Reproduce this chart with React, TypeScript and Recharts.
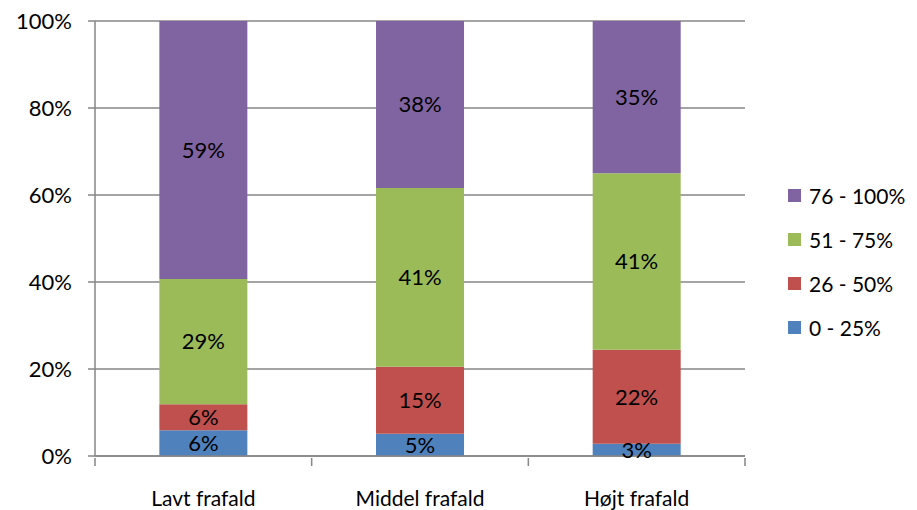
import React from "react";
import { BarChart, Bar, XAxis, YAxis, CartesianGrid, LabelList } from "recharts";

const categories = ["Lavt frafald", "Middel frafald", "Højt frafald"];
const seriesNames = ["0 - 25%", "26 - 50%", "51 - 75%", "76 - 100%"];
const band0 = [5.9, 5.1, 2.8];
const band1 = [6.0, 15.4, 21.6];
const band2 = [28.8, 41.1, 40.6];
const band3 = [59.3, 38.4, 35.0];
const yTicks = [0, 20, 40, 60, 80, 100];

const COLORS = ["#4F81BD", "#C0504D", "#9BBB59", "#8064A2"];
const FONT = "Lato, 'Open Sans', sans-serif";
const AXIS = "#868686";

const data = categories.map((name, i) => ({
  name,
  s0: band0[i],
  s1: band1[i],
  s2: band2[i],
  s3: band3[i],
}));

const PLOT_W = 650;
const BAND = PLOT_W / categories.length;

const XTick = (props: any) => {
  const { x, y, payload, index } = props;
  const left = x - BAND / 2;
  return (
    <g>
      <line x1={left} y1={y - 6} x2={left} y2={y + 2} stroke={AXIS} strokeWidth={1.5} />
      {index === categories.length - 1 && (
        <line x1={left + BAND} y1={y - 6} x2={left + BAND} y2={y + 2} stroke={AXIS} strokeWidth={1.5} />
      )}
      <text x={x} y={y + 42} textAnchor="middle" fill="#000" fontSize={21} fontFamily={FONT}>
        {payload.value}
      </text>
    </g>
  );
};

const LegendBox = () => (
  <div style={{ position: "absolute", left: 788, top: 173, fontFamily: FONT, fontSize: 21, color: "#000" }}>
    {seriesNames
      .map((n, i) => ({ n, c: COLORS[i] }))
      .reverse()
      .map((it) => (
        <div key={it.n} style={{ display: "flex", alignItems: "center", height: 44, whiteSpace: "nowrap" }}>
          <span style={{ width: 13, height: 13, background: it.c, display: "inline-block", marginRight: 8 }} />
          <span>{it.n}</span>
        </div>
      ))}
  </div>
);

const fmt = (v: any) => `${Math.round(Number(v))}%`;

export default function App() {
  return (
    <div style={{ position: "absolute", left: 0, top: 0, width: 917, height: 510, background: "#fff" }}>
      <BarChart
        width={917}
        height={510}
        data={data}
        margin={{ top: 21, right: 172, bottom: 0, left: 0 }}
        barCategoryGap="29.7%"
      >
        <CartesianGrid horizontal vertical={false} stroke={AXIS} strokeWidth={1.5} />
        <XAxis
          dataKey="name"
          height={54}
          tickLine={false}
          axisLine={{ stroke: AXIS, strokeWidth: 1.5 }}
          tick={<XTick />}
          interval={0}
        />
        <YAxis
          width={95}
          domain={[0, 100]}
          ticks={yTicks}
          tickFormatter={(v) => `${v}%`}
          tickSize={7}
          tickLine={{ stroke: AXIS, strokeWidth: 1.5 }}
          axisLine={{ stroke: AXIS, strokeWidth: 1.5 }}
          tick={{ fill: "#000", fontSize: 22, fontFamily: FONT }}
          tickMargin={16}
          allowDataOverflow
        />
        {["s0", "s1", "s2", "s3"].map((k, i) => (
          <Bar key={k} dataKey={k} name={seriesNames[i]} stackId="a" fill={COLORS[i]} isAnimationActive={false}>
            <LabelList dataKey={k} position="center" formatter={fmt} fill="#000" fontSize={22} fontFamily={FONT} />
          </Bar>
        ))}
      </BarChart>
      <LegendBox />
    </div>
  );
}
